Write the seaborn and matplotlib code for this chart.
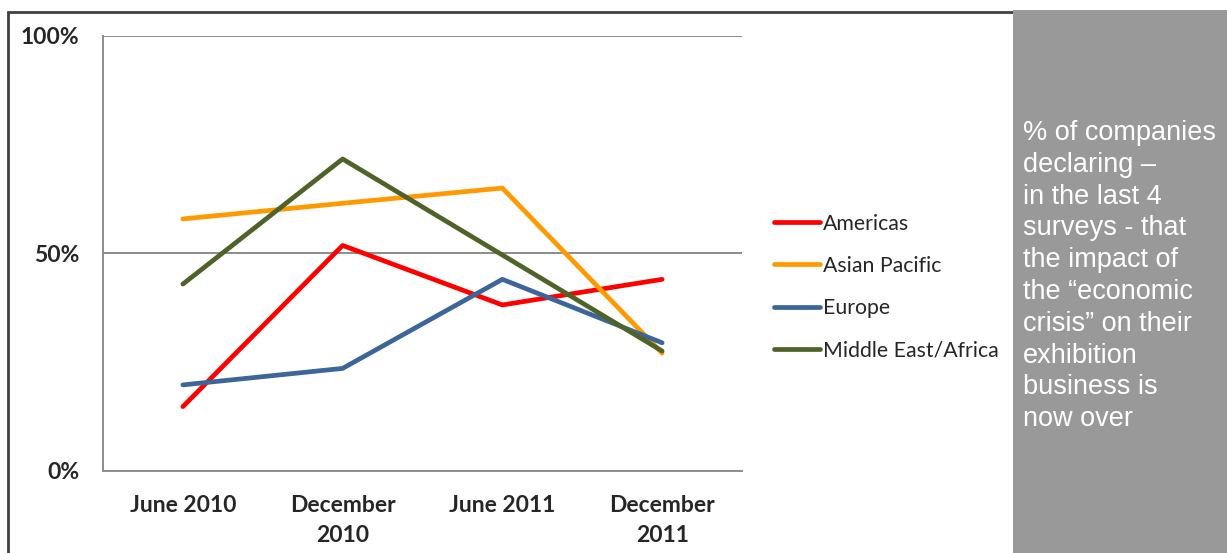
import matplotlib
matplotlib.use("Agg")
import matplotlib.pyplot as plt
import matplotlib.patches as mpatches
from matplotlib.ticker import PercentFormatter, FixedLocator
import pandas as pd
import seaborn as sns

# survey rounds and share of companies (%) saying the crisis impact is over
surveys = ["June 2010", "December\n2010", "June 2011", "December\n2011"]
americas = [14.7, 51.8, 38.1, 44.0]
asian_pacific = [57.9, 61.5, 65.0, 27.0]
europe = [19.7, 23.5, 44.0, 29.4]
middle_east_africa = [42.9, 71.7, 49.6, 27.5]

regions = ["Americas", "Asian Pacific", "Europe", "Middle East/Africa"]
colors = ["#FF0000", "#FF9900", "#3C6699", "#4F6228"]
panel_text = ("% of companies\ndeclaring \u2013\nin the last 4\nsurveys - that\n"
              "the impact of\nthe \u201ceconomic\ncrisis\u201d on their\n"
              "exhibition\nbusiness is\nnow over")

df = pd.DataFrame({
    "survey": surveys * 4,
    "region": [r for r in regions for _ in surveys],
    "value": americas + asian_pacific + europe + middle_east_africa,
})

sns.set_style("white")
plt.rcParams["font.family"] = ["Lato", "DejaVu Sans"]

fig = plt.figure(figsize=(12.27, 5.53), dpi=100)
ax = fig.add_axes([103 / 1227, 1 - 470.5 / 553, 639 / 1227, 434.5 / 553])

sns.lineplot(data=df, x="survey", y="value", hue="region", hue_order=regions,
             palette=colors, sort=False, linewidth=3.4, ax=ax)

ax.set_xlim(-0.5, 3.5)
ax.set_ylim(0, 100)
ax.set_yticks([0, 50, 100])
ax.yaxis.set_major_formatter(PercentFormatter(decimals=0))
ax.set_xticks(range(len(surveys)))
ax.set_xticklabels(surveys, fontsize=16.5, fontweight="bold", linespacing=1.5)
ax.xaxis.set_minor_locator(FixedLocator([-0.5, 0.5, 1.5, 2.5, 3.5]))
ax.tick_params(axis="x", which="major", length=0, pad=18)
ax.tick_params(axis="x", which="minor", length=5, width=1.3, color="#888888",
               direction="out")
ax.tick_params(axis="y", length=6, width=1.3, color="#888888", pad=11,
               labelsize=16.5, direction="out")
for lab in ax.get_yticklabels():
    lab.set_fontweight("bold")
ax.set_xlabel("")
ax.set_ylabel("")

ax.yaxis.grid(True, color="#8c8c8c", linewidth=1.4)
ax.set_axisbelow(True)
sns.despine(ax=ax, top=True, right=True)
for side in ("left", "bottom"):
    ax.spines[side].set_color("#8c8c8c")
    ax.spines[side].set_linewidth(1.4)

handles, labels = ax.get_legend_handles_labels()
ax.legend(handles, labels, loc="center left",
          bbox_to_anchor=(774 / 1227, 1 - 287 / 553),
          bbox_transform=fig.transFigure, frameon=False, fontsize=15.3,
          handlelength=2.15, handletextpad=0.15, labelspacing=1.05,
          borderpad=0, borderaxespad=0)

# outer chart border (dark) and grey side panel
fig.add_artist(mpatches.Rectangle((8 / 1227, -0.1), 1010 / 1227, 1.1 - 12 / 553,
                                  transform=fig.transFigure, fill=False,
                                  edgecolor="#404040", linewidth=2))
fig.add_artist(mpatches.Rectangle((1013 / 1227, 0), 214 / 1227, 1 - 9.6 / 553,
                                  transform=fig.transFigure, facecolor="#999999",
                                  edgecolor="none"))
fig.text(1023 / 1227, 1 - 120 / 553, panel_text, color="white", fontsize=19.5,
         family=["Liberation Sans", "DejaVu Sans"], ha="left", va="top",
         linespacing=1.29)

fig.savefig("out.png", dpi=100)
